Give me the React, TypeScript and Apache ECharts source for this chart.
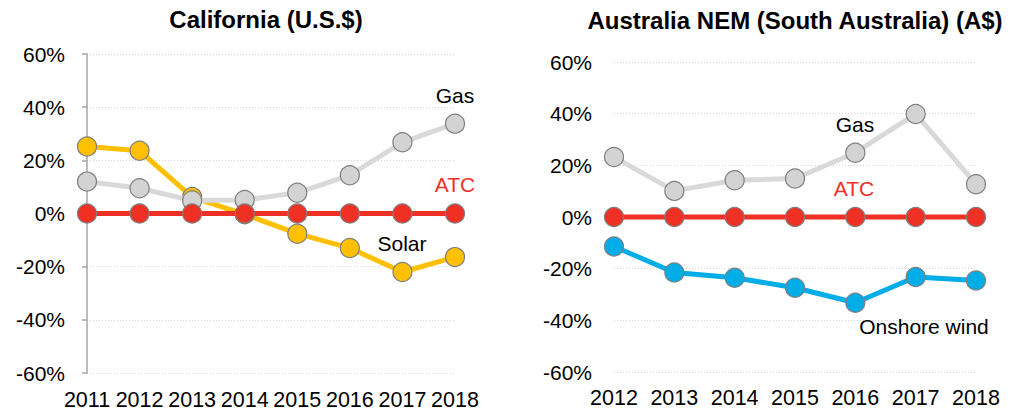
import React, { useEffect, useRef } from "react";
import * as echarts from "echarts";

const caYears = ["2011", "2012", "2013", "2014", "2015", "2016", "2017", "2018"];
const caGas = [12.0, 9.5, 4.9, 5.1, 7.8, 14.4, 26.8, 33.8];
const caSolar = [25.2, 23.6, 6.2, -0.3, -7.6, -13.0, -22.0, -16.4];
const caAtc = [0, 0, 0, 0, 0, 0, 0, 0];

const auYears = ["2012", "2013", "2014", "2015", "2016", "2017", "2018"];
const auGas = [23.2, 10.1, 14.2, 14.9, 24.9, 39.9, 12.7];
const auWind = [-11.4, -21.5, -23.5, -27.4, -33.2, -23.2, -24.6];
const auAtc = [0, 0, 0, 0, 0, 0, 0];

const FONT = "'Liberation Sans', Arial, sans-serif";
const GAS_LINE = "#d9d9d9";
const GAS_FILL = "#d3d3d3";
const YELLOW = "#ffc000";
const RED = "#ee3124";
const BLUE = "#00ade6";
const BORDER = "#7f7f7f";

function lineSeries(name: string, data: number[], idx: number, lineColor: string, fill: string, z: number) {
  return {
    name,
    type: "line",
    xAxisIndex: idx,
    yAxisIndex: idx,
    data,
    symbol: "circle",
    symbolSize: 19,
    z,
    lineStyle: { color: lineColor, width: 5 },
    itemStyle: { color: fill, borderColor: BORDER, borderWidth: 1.2 },
    emphasis: { disabled: true },
  };
}

export default function App() {
  const ref = useRef<HTMLDivElement>(null);
  useEffect(() => {
    document.body.style.margin = "0";
    const chart = echarts.init(ref.current!, undefined, { renderer: "svg" });
    const yAxisBase = (showLine: boolean) => ({
      type: "value",
      min: -60,
      max: 60,
      interval: 20,
      axisLine: { show: showLine, lineStyle: { color: "#a6a6a6", width: 1.5 } },
      axisTick: { show: showLine, length: 5, lineStyle: { color: "#a6a6a6", width: 1.5 } },
      axisLabel: { formatter: "{value}%", color: "#000", fontSize: 21, fontFamily: FONT, margin: 22 },
      splitLine: { show: true, lineStyle: { color: "#d6d6d6", width: 1, type: [1, 2] } },
    });
    const xAxisBase = (data: string[], idx: number, margin: number) => ({
      type: "category",
      gridIndex: idx,
      data,
      boundaryGap: false,
      axisLine: { show: false },
      axisTick: { show: false },
      splitLine: { show: false },
      axisLabel: { color: "#000", fontSize: 21.5, fontFamily: FONT, margin, interval: 0 },
    });
    const txt = (text: string, x: number, y: number, color = "#000", bold = false, size = 21) => ({
      type: "text",
      x,
      y,
      style: {
        text,
        fill: color,
        font: `${bold ? "bold " : ""}${size}px ${FONT}`,
        textAlign: "center",
        textVerticalAlign: "middle",
      },
      z: 100,
    });
    chart.setOption({
      animation: false,
      grid: [
        { left: 87, top: 54, width: 368, height: 319 },
        { left: 614, top: 62, width: 362, height: 310 },
      ],
      xAxis: [xAxisBase(caYears, 0, 16), xAxisBase(auYears, 1, 15)],
      yAxis: [
        { ...yAxisBase(true), gridIndex: 0 },
        { ...yAxisBase(false), gridIndex: 1 },
      ],
      series: [
        lineSeries("Solar", caSolar, 0, YELLOW, YELLOW, 2),
        lineSeries("Gas", caGas, 0, GAS_LINE, GAS_FILL, 3),
        lineSeries("ATC", caAtc, 0, RED, RED, 4),
        lineSeries("Onshore wind", auWind, 1, BLUE, BLUE, 2),
        lineSeries("Gas", auGas, 1, GAS_LINE, GAS_FILL, 3),
        lineSeries("ATC", auAtc, 1, RED, RED, 4),
      ],
      graphic: [
        txt("California (U.S.$)", 266, 19, "#000", true, 24),
        txt("Australia NEM (South Australia) (A$)", 795, 20, "#000", true, 24),
        txt("Gas", 455, 95),
        txt("ATC", 455, 184, RED),
        txt("Solar", 402, 243),
        txt("Gas", 855, 124),
        txt("ATC", 854, 188, RED),
        txt("Onshore wind", 924, 326),
      ],
    });
    return () => chart.dispose();
  }, []);
  return <div ref={ref} style={{ width: 1017, height: 412 }} />;
}
